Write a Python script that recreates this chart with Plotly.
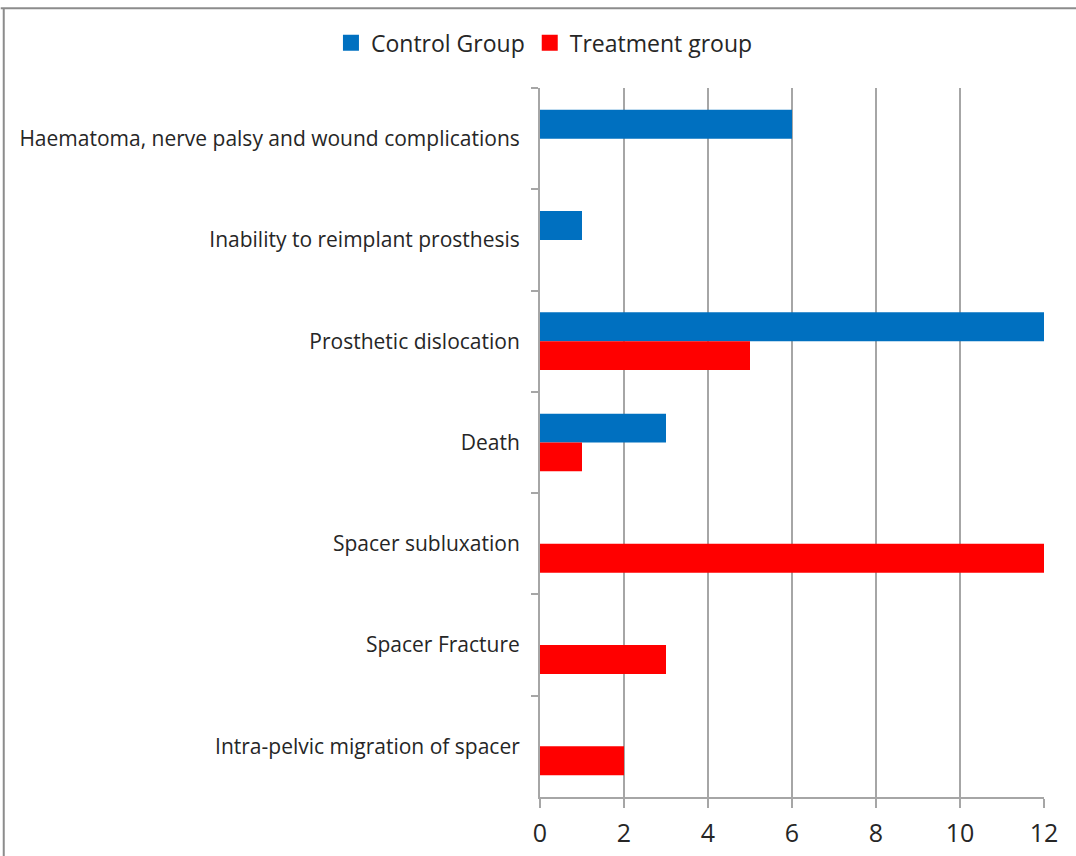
import plotly.graph_objects as go

categories = [
    "Haematoma, nerve palsy and wound complications",
    "Inability to reimplant prosthesis",
    "Prosthetic dislocation",
    "Death",
    "Spacer subluxation",
    "Spacer Fracture",
    "Intra-pelvic migration of spacer",
]
control_group = [6, 1, 12, 3, 0, 0, 0]
treatment_group = [0, 0, 5, 1, 12, 3, 2]
x_ticks = [0, 2, 4, 6, 8, 10, 12]

FONT = "Open Sans"
GRID = "#a6a6a6"
BLUE = "#0070c0"
RED = "#ff0000"

fig = go.Figure()
fig.add_trace(go.Bar(
    y=categories, x=control_group, orientation="h",
    name="Control Group", marker=dict(color=BLUE, line=dict(width=0)),
    showlegend=False,
))
fig.add_trace(go.Bar(
    y=categories, x=treatment_group, orientation="h",
    name="Treatment group", marker=dict(color=RED, line=dict(width=0)),
    showlegend=False,
))
# legend entries with larger square keys
for name, color in [("Control Group", BLUE), ("Treatment group", RED)]:
    fig.add_trace(go.Scatter(
        x=[None], y=[None], mode="markers", name=name,
        marker=dict(symbol="square", size=16, color=color),
        showlegend=True,
    ))

fig.update_layout(
    width=1076, height=856,
    margin=dict(l=540, r=32, t=88, b=59, autoexpand=False),
    paper_bgcolor="white", plot_bgcolor="white",
    barmode="group", bargap=0.43, bargroupgap=0,
    font=dict(family=FONT, color="#262626"),
    showlegend=True,
    legend=dict(
        orientation="h", x=0.506, xanchor="center", xref="container",
        y=0.95, yanchor="middle", yref="container",
        font=dict(size=23, family=FONT, color="#262626"),
        traceorder="normal", itemwidth=30,
    ),
    xaxis=dict(
        range=[0, 12], tickvals=x_ticks, ticktext=[str(v) for v in x_ticks],
        showgrid=True, gridcolor=GRID, gridwidth=1.5,
        showline=True, linecolor=GRID, linewidth=2,
        ticks="outside", ticklen=9, tickcolor=GRID, tickwidth=1.5,
        tickfont=dict(size=25, family=FONT, color="#262626"),
        zeroline=False, fixedrange=True, ticklabelstandoff=4,
        automargin=False,
    ),
    yaxis=dict(
        autorange="reversed", type="category",
        showline=True, linecolor=GRID, linewidth=2,
        ticks="outside", tickson="boundaries", ticklen=7,
        tickcolor=GRID, tickwidth=1.5,
        tickfont=dict(size=21, family=FONT, color="#262626"),
        showgrid=False, zeroline=False, ticklabelstandoff=14,
        automargin=False,
    ),
    shapes=[
        dict(type="line", xref="paper", yref="paper",
             x0=-1.07, x1=1.1, y0=1.1125, y1=1.1125,
             line=dict(color="#8c8c8c", width=2)),
        dict(type="line", xref="paper", yref="paper",
             x0=-1.064, x1=-1.064, y0=-0.1, y1=1.1125,
             line=dict(color="#8c8c8c", width=2)),
    ],
)

fig.write_html("out.html")
